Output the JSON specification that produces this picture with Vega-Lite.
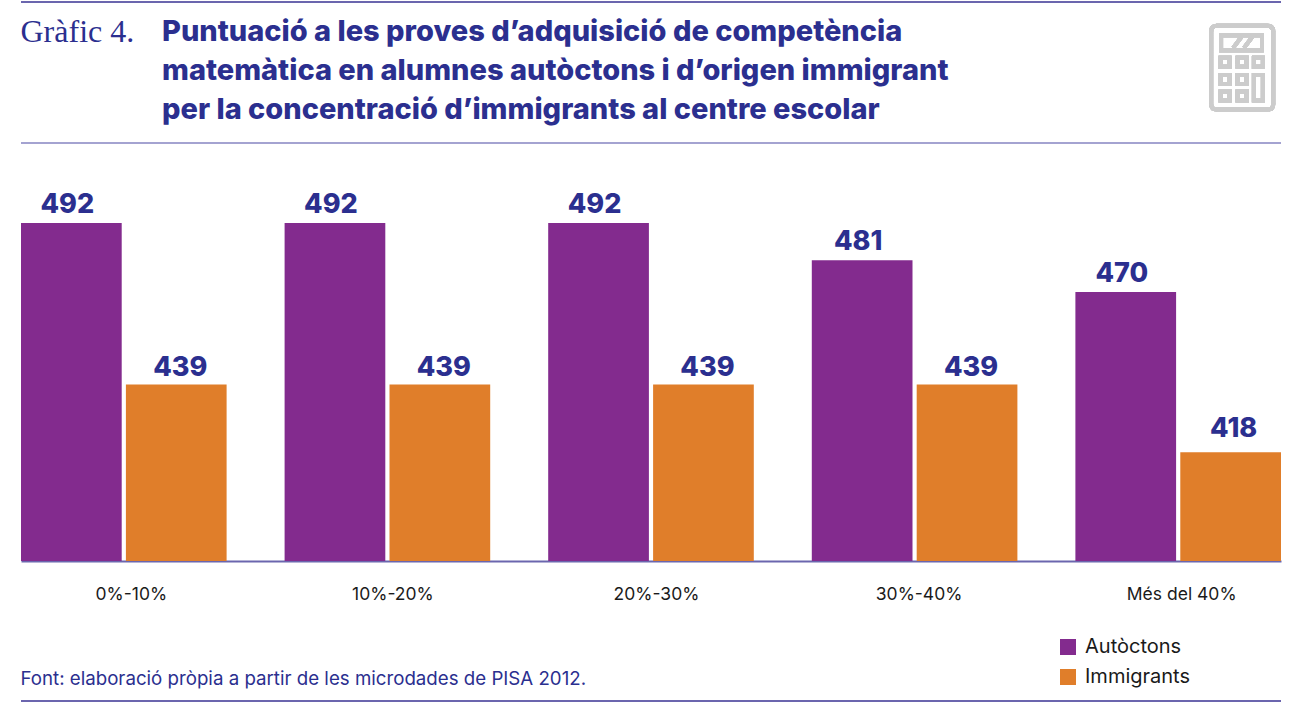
{
  "$schema": "https://vega.github.io/schema/vega-lite/v6.json",
  "description": "Puntuació a les proves de competència matemàtica per concentració d'immigrants",
  "autosize": "none",
  "width": 1260,
  "height": 338,
  "padding": {"left": 21, "top": 223, "right": 32, "bottom": 148},
  "background": "white",
  "config": {"view": {"stroke": null}},
  "title": {
    "text": [
      "Puntuació a les proves d’adquisició de competència",
      "matemàtica en alumnes autòctons i d’origen immigrant",
      "per la concentració d’immigrants al centre escolar"
    ],
    "anchor": "start",
    "frame": "group",
    "align": "left",
    "baseline": "alphabetic",
    "dx": 141,
    "offset": -147,
    "font": "Inter",
    "fontSize": 29,
    "fontWeight": 800,
    "lineHeight": 39,
    "color": "#2b2f8f"
  },
  "data": {
    "values": [
      {"grup": "0%-10%", "alumnes": "Autòctons", "puntuacio": 492, "barra": 492},
      {"grup": "0%-10%", "alumnes": "Immigrants", "puntuacio": 439, "barra": 439},
      {"grup": "10%-20%", "alumnes": "Autòctons", "puntuacio": 492, "barra": 492},
      {"grup": "10%-20%", "alumnes": "Immigrants", "puntuacio": 439, "barra": 439},
      {"grup": "20%-30%", "alumnes": "Autòctons", "puntuacio": 492, "barra": 492},
      {"grup": "20%-30%", "alumnes": "Immigrants", "puntuacio": 439, "barra": 439},
      {"grup": "30%-40%", "alumnes": "Autòctons", "puntuacio": 481, "barra": 479.8},
      {"grup": "30%-40%", "alumnes": "Immigrants", "puntuacio": 439, "barra": 439},
      {"grup": "Més del 40%", "alumnes": "Autòctons", "puntuacio": 470, "barra": 469.3},
      {"grup": "Més del 40%", "alumnes": "Immigrants", "puntuacio": 418, "barra": 416.7}
    ]
  },
  "layer": [
    {
      "mark": {"type": "bar"},
      "encoding": {
        "x": {
          "field": "grup",
          "type": "nominal",
          "sort": null,
          "scale": {"paddingInner": 0.22, "paddingOuter": 0},
          "axis": {
            "title": "Font: elaboració pròpia a partir de les microdades de PISA 2012.",
            "titleX": -1,
            "titleY": 123,
            "titleAlign": "left",
            "titleAnchor": "start",
            "titleBaseline": "alphabetic",
            "titleFont": "Inter",
            "titleFontSize": 18.7,
            "titleFontWeight": 400,
            "titleColor": "#2b2f8f",
            "labelAngle": 0,
            "labelFont": "Inter",
            "labelFontSize": 17.5,
            "labelColor": "#1a1a1a",
            "labelPadding": 24,
            "labelOffset": {
              "condition": [
                {"test": "datum.value === '0%-10%'", "value": 7.5},
                {"test": "datum.value === '30%-40%'", "value": 4.5},
                {"test": "datum.value === 'Més del 40%'", "value": 3.5}
              ],
              "value": 5.5
            },
            "ticks": false,
            "domainColor": "#6b66ae",
            "domainWidth": 2
          }
        },
        "xOffset": {
          "field": "alumnes",
          "type": "nominal",
          "scale": {"paddingInner": 0.04, "paddingOuter": 0}
        },
        "y": {
          "field": "barra",
          "type": "quantitative",
          "scale": {"domain": [381, 492], "nice": false, "zero": false},
          "axis": {
            "title": "Gràfic 4.",
            "titleX": -1,
            "titleY": -182,
            "titleAngle": 0,
            "titleAlign": "left",
            "titleBaseline": "alphabetic",
            "titleFont": "Liberation Serif",
            "titleFontSize": 32,
            "titleFontWeight": 400,
            "titleColor": "#2b2f8f",
            "labels": false,
            "ticks": false,
            "domain": false,
            "grid": false
          }
        },
        "y2": {"datum": 381},
        "color": {
          "field": "alumnes",
          "type": "nominal",
          "scale": {"domain": ["Autòctons", "Immigrants"], "range": ["#832b8e", "#e07e2a"]},
          "legend": {
            "title": null,
            "orient": "none",
            "legendX": 1037,
            "legendY": 414,
            "symbolType": "square",
            "symbolSize": 256,
            "symbolStrokeWidth": 0,
            "symbolOpacity": 1,
            "labelFont": "Inter",
            "labelFontSize": 20,
            "labelColor": "#1a1a1a",
            "labelOffset": 7,
            "rowPadding": 10
          }
        }
      }
    },
    {
      "transform": [{"filter": "datum.alumnes === 'Autòctons'"}],
      "mark": {
        "type": "text",
        "font": "Inter",
        "fontSize": 27,
        "fontWeight": 800,
        "color": "#2b2f8f",
        "baseline": "alphabetic",
        "dy": -10,
        "dx": -4
      },
      "encoding": {
        "x": {"field": "grup", "type": "nominal", "sort": null},
        "xOffset": {"field": "alumnes", "type": "nominal"},
        "y": {"field": "barra", "type": "quantitative"},
        "text": {"field": "puntuacio", "type": "quantitative"}
      }
    },
    {
      "transform": [{"filter": "datum.alumnes === 'Immigrants' && datum.puntuacio !== 418"}],
      "mark": {
        "type": "text",
        "font": "Inter",
        "fontSize": 27,
        "fontWeight": 800,
        "color": "#2b2f8f",
        "baseline": "alphabetic",
        "dy": -8,
        "dx": 4
      },
      "encoding": {
        "x": {"field": "grup", "type": "nominal", "sort": null},
        "xOffset": {"field": "alumnes", "type": "nominal"},
        "y": {"field": "barra", "type": "quantitative"},
        "text": {"field": "puntuacio", "type": "quantitative"}
      }
    },
    {
      "transform": [{"filter": "datum.puntuacio === 418"}],
      "mark": {
        "type": "text",
        "font": "Inter",
        "fontSize": 27,
        "fontWeight": 800,
        "color": "#2b2f8f",
        "baseline": "alphabetic",
        "dy": -15,
        "dx": 3
      },
      "encoding": {
        "x": {"field": "grup", "type": "nominal", "sort": null},
        "xOffset": {"field": "alumnes", "type": "nominal"},
        "y": {"field": "barra", "type": "quantitative"},
        "text": {"field": "puntuacio", "type": "quantitative"}
      }
    },
    {
      "mark": {"type": "rule", "color": "#6b66ae", "strokeWidth": 1.5},
      "encoding": {"y": {"datum": 564.7, "type": "quantitative"}}
    },
    {
      "mark": {"type": "rule", "color": "#a5a3d0", "strokeWidth": 1.5},
      "encoding": {"y": {"datum": 518.3, "type": "quantitative"}}
    },
    {
      "mark": {"type": "rule", "color": "#6b66ae", "strokeWidth": 1.5},
      "encoding": {"y": {"datum": 335, "type": "quantitative"}}
    },
    {
      "mark": {
        "type": "point",
        "shape": "M-0.56 -0.93H0.56Q0.69 -0.93 0.69 -0.8V0.8Q0.69 0.93 0.56 0.93H-0.56Q-0.69 0.93 -0.69 0.8V-0.8Q-0.69 -0.93 -0.56 -0.93ZM-0.47 -0.72H0.44V-0.39H-0.47ZM-0.2 -0.44L-0.02 -0.68M0.04 -0.44L0.22 -0.68M-0.48 -0.22h0.2v0.2h-0.2ZM-0.1 -0.22h0.2v0.2h-0.2ZM0.26 -0.22h0.2v0.2h-0.2ZM-0.48 0.16h0.2v0.2h-0.2ZM-0.1 0.16h0.2v0.2h-0.2ZM-0.48 0.53h0.2v0.2h-0.2ZM-0.1 0.53h0.2v0.2h-0.2ZM0.26 0.16h0.2v0.57h-0.2Z",
        "size": 8100,
        "filled": false,
        "color": "#cccccc",
        "strokeWidth": 4,
        "opacity": 1,
        "xOffset": 64
      },
      "encoding": {
        "x": {"datum": "Més del 40%", "type": "nominal"},
        "y": {"datum": 543, "type": "quantitative"}
      }
    }
  ]
}
